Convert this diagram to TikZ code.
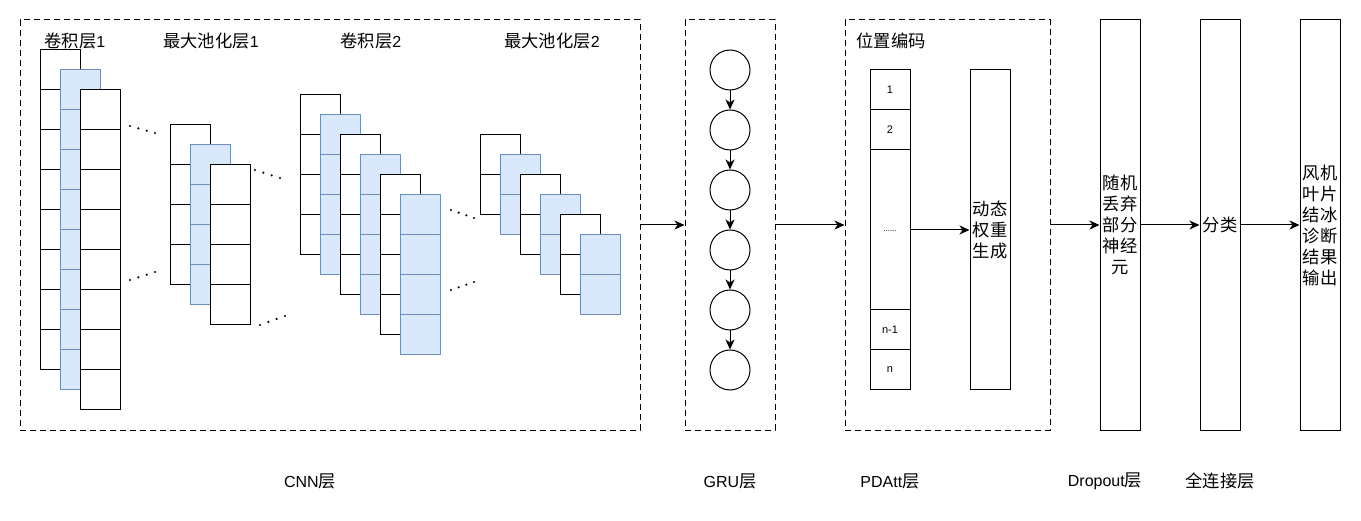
\documentclass[tikz,border=0pt]{standalone}
\usepackage{fontspec}
\setmainfont{Liberation Sans}
\newfontfamily\cjk{Noto Sans CJK SC}[Scale=1.08]
\usetikzlibrary{arrows.meta}
\definecolor{blueE}{HTML}{6C8EBF}
\definecolor{blueF}{HTML}{DAE8FC}
\newcommand{\mycol}[4]{%
  \foreach \k in {1,...,#4} {\draw[#1] (#2,{#3+40*(\k-1)}) rectangle ++(40,40);}}
\newcommand{\mydots}[4]{%
  \foreach \t in {0,1,2,3} {\fill ({#1+(#3-#1)*\t/3},{#2+(#4-#2)*\t/3}) circle (1.2);}}
\begin{document}
\begin{tikzpicture}[x=1pt,y=-1pt,
  every node/.style={font=\fontsize{16}{21}\selectfont},
  wcell/.style={draw=black,fill=white,line width=1pt},
  bcell/.style={draw=blueE,fill=blueF,line width=1pt},
  dbox/.style={draw,line width=1pt,dash pattern=on 6pt off 4pt,rectangle,inner sep=0pt,minimum height=410pt},
  sbox/.style={draw,line width=1pt,rectangle,inner sep=0pt,minimum width=40pt,align=center},
  gnode/.style={draw,line width=1pt,circle,inner sep=0pt,minimum size=40pt},
  arr/.style={line width=1pt,-{Stealth[length=10pt,width=9pt,inset=3pt]}},
  lbl/.style={inner sep=0pt,anchor=center},
  small/.style={inner sep=0pt,font=\fontsize{11}{13}\selectfont}]
\useasboundingbox (0,0) rectangle (1361,521);

% dashed group boxes
\node[dbox,minimum width=620pt] (cnn) at (330,225) {};
\node[dbox,minimum width=90pt] (gru) at (730,225) {};
\node[dbox,minimum width=205pt] (pda) at (947.5,225) {};

% CNN layer titles
\node[lbl] (t1) at (75,41) {{\cjk 卷积层}1};
\node[lbl] (t2) at (211,41) {{\cjk 最大池化层}1};
\node[lbl] (t3) at (371,41) {{\cjk 卷积层}2};
\node[lbl] (t4) at (552,41) {{\cjk 最大池化层}2};

% conv layer 1
\mycol{wcell}{40}{50}{8}
\mycol{bcell}{60}{70}{8}
\mycol{wcell}{80}{90}{8}
% pooling 1
\mycol{wcell}{170}{125}{4}
\mycol{bcell}{190}{145}{4}
\mycol{wcell}{210}{165}{4}
% conv layer 2
\mycol{wcell}{300}{95}{4}
\mycol{bcell}{320}{115}{4}
\mycol{wcell}{340}{135}{4}
\mycol{bcell}{360}{155}{4}
\mycol{wcell}{380}{175}{4}
\mycol{bcell}{400}{195}{4}
% pooling 2
\mycol{wcell}{480}{135}{2}
\mycol{bcell}{500}{155}{2}
\mycol{wcell}{520}{175}{2}
\mycol{bcell}{540}{195}{2}
\mycol{wcell}{560}{215}{2}
\mycol{bcell}{580}{235}{2}

% dots
\mydots{130}{126}{155}{133}
\mydots{130}{280}{155}{272}
\mydots{255}{170}{280}{178}
\mydots{260}{325}{285}{316}
\mydots{451}{210}{474}{218}
\mydots{451}{290}{474}{282}

% GRU chain
\foreach \i in {1,...,6} {\node[gnode] (g\i) at (730,{10+60*\i}) {};}
\foreach \i/\j in {1/2,2/3,3/4,4/5,5/6} {\draw[arr] (g\i) -- (g\j);}

% PDAtt
\node[lbl] (pos) at (891,41) {\cjk 位置编码};
\node[sbox,minimum height=320pt] (pe) at (890,230) {};
\foreach \yy in {110,150,310,350} {\draw[line width=1pt] (870,\yy) -- (910,\yy);}
\node[small] (p1) at (890,90) {1};
\node[small] (p2) at (890,130) {2};
\node[small,font=\fontsize{8}{9}\selectfont] (pd) at (890,231) {......};
\node[small] (pn1) at (890,330) {n-1};
\node[small] (pn) at (890,370) {n};
\node[sbox,minimum height=320pt] (dw) at (990,230) {\cjk 动态\\\cjk 权重\\\cjk 生成};

% right boxes
\node[sbox,minimum height=410pt] (drop) at (1120,225) {\cjk 随机\\\cjk 丢弃\\\cjk 部分\\\cjk 神经\\\cjk 元};
\node[sbox,minimum height=410pt] (cls) at (1220,225) {\cjk 分类};
\node[sbox,minimum height=410pt] (out) at (1320,225) {\cjk 风机\\\cjk 叶片\\\cjk 结冰\\\cjk 诊断\\\cjk 结果\\\cjk 输出};

% connectors
\draw[arr] (cnn.east) -- (gru.west);
\draw[arr] (gru.east) -- (pda.west);
\draw[arr] (pe.east) -- (dw.west);
\draw[arr] (pda.east) -- (drop.west);
\draw[arr] (drop.east) -- (cls.west);
\draw[arr] (cls.east) -- (out.west);

% bottom labels
\node[lbl] (b1) at (310,481) {CNN{\cjk 层}};
\node[lbl] (b2) at (730,481) {GRU{\cjk 层}};
\node[lbl] (b3) at (890,481) {PDAtt{\cjk 层}};
\node[lbl] (b4) at (1105,481) {Dropout{\cjk 层}};
\node[lbl] (b5) at (1220,481) {\cjk 全连接层};
\end{tikzpicture}
\end{document}
